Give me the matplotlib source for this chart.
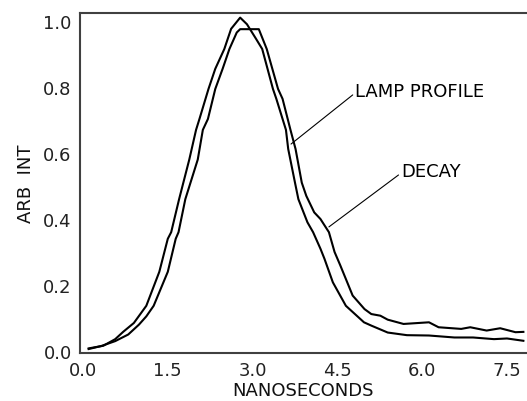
import matplotlib
matplotlib.use("Agg")
import matplotlib.pyplot as plt

# Lamp profile (peaks first)
lamp_t = [0.10, 0.36, 0.57, 0.71, 0.90, 1.12, 1.35, 1.50, 1.56, 1.70, 1.88, 2.00,
          2.06, 2.22, 2.34, 2.50, 2.62, 2.78, 2.90, 3.06, 3.17, 3.36, 3.42, 3.59,
          3.63, 3.75, 3.81, 3.97, 4.07, 4.20, 4.27, 4.42, 4.65, 4.97, 5.10, 5.39,
          5.73, 6.12, 6.57, 6.90, 7.27, 7.50, 7.79]
lamp_y = [0.008, 0.016, 0.036, 0.058, 0.085, 0.137, 0.240, 0.340, 0.360, 0.460, 0.580, 0.670,
          0.703, 0.794, 0.855, 0.915, 0.976, 1.010, 0.990, 0.946, 0.915, 0.794, 0.764, 0.670,
          0.612, 0.510, 0.460, 0.390, 0.360, 0.310, 0.280, 0.208, 0.137, 0.087, 0.077, 0.056,
          0.048, 0.047, 0.041, 0.041, 0.036, 0.038, 0.031]

# Decay curve (delayed, longer tail)
decay_t = [0.10, 0.32, 0.57, 0.80, 0.99, 1.12, 1.25, 1.50, 1.64, 1.69, 1.81, 2.03,
           2.12, 2.21, 2.34, 2.47, 2.59, 2.72, 2.78, 3.11, 3.25, 3.45, 3.53, 3.67,
           3.76, 3.87, 3.95, 4.09, 4.20, 4.35, 4.45, 4.55, 4.77, 4.98, 5.10, 5.26,
           5.39, 5.67, 6.12, 6.29, 6.69, 6.85, 7.14, 7.38, 7.65, 7.79]
decay_y = [0.006, 0.015, 0.030, 0.050, 0.080, 0.105, 0.137, 0.240, 0.340, 0.360, 0.460, 0.580,
           0.670, 0.703, 0.794, 0.855, 0.915, 0.965, 0.975, 0.975, 0.915, 0.794, 0.764, 0.670,
           0.612, 0.510, 0.470, 0.420, 0.400, 0.360, 0.300, 0.260, 0.168, 0.127, 0.112, 0.107,
           0.095, 0.082, 0.087, 0.072, 0.067, 0.072, 0.062, 0.069, 0.057, 0.058]

x_ticks = [0.0, 1.5, 3.0, 4.5, 6.0, 7.5]
x_tick_labels = ["0.0", "1.5", "3.0", "4.5", "6.0", "7.5"]
y_ticks = [0.0, 0.2, 0.4, 0.6, 0.8, 1.0]
y_tick_labels = ["0.0", "0.2", "0.4", "0.6", "0.8", "1.0"]

plt.rcParams["font.family"] = ["DejaVu Sans"]

fig = plt.figure(figsize=(5.27, 4.02), dpi=100)
ax = fig.add_axes([80 / 527, 48 / 402, 447 / 527, 340 / 402])

ax.plot(lamp_t, lamp_y, color="black", linewidth=1.5)
ax.plot(decay_t, decay_y, color="black", linewidth=1.5)

ax.set_xlim(-0.053, 7.854)
ax.set_ylim(-0.006, 1.024)
ax.set_xticks(x_ticks)
ax.set_xticklabels(x_tick_labels)
ax.set_yticks(y_ticks)
ax.set_yticklabels(y_tick_labels)
ax.tick_params(length=0, labelsize=13, pad=6, colors="#222222")

for side in ("left", "bottom", "top"):
    ax.spines[side].set_color("#404040")
    ax.spines[side].set_linewidth(1.5)
ax.spines["right"].set_visible(False)

ax.set_xlabel("NANOSECONDS", fontsize=13, labelpad=1, color="#111111")
ax.set_ylabel("ARB  INT", fontsize=13, labelpad=6, color="#111111")

# leader-line annotations
ax.annotate("LAMP PROFILE", xy=(3.68, 0.627), xytext=(4.82, 0.788),
            fontsize=13, va="center", ha="left",
            arrowprops=dict(arrowstyle="-", color="black", linewidth=0.8,
                            shrinkA=0, shrinkB=0, relpos=(0, 0.4)))
ax.annotate("DECAY", xy=(4.35, 0.376), xytext=(5.63, 0.545),
            fontsize=13, va="center", ha="left",
            arrowprops=dict(arrowstyle="-", color="black", linewidth=0.8,
                            shrinkA=0, shrinkB=0, relpos=(0, 0.4)))

fig.savefig("out.png", dpi=100)
